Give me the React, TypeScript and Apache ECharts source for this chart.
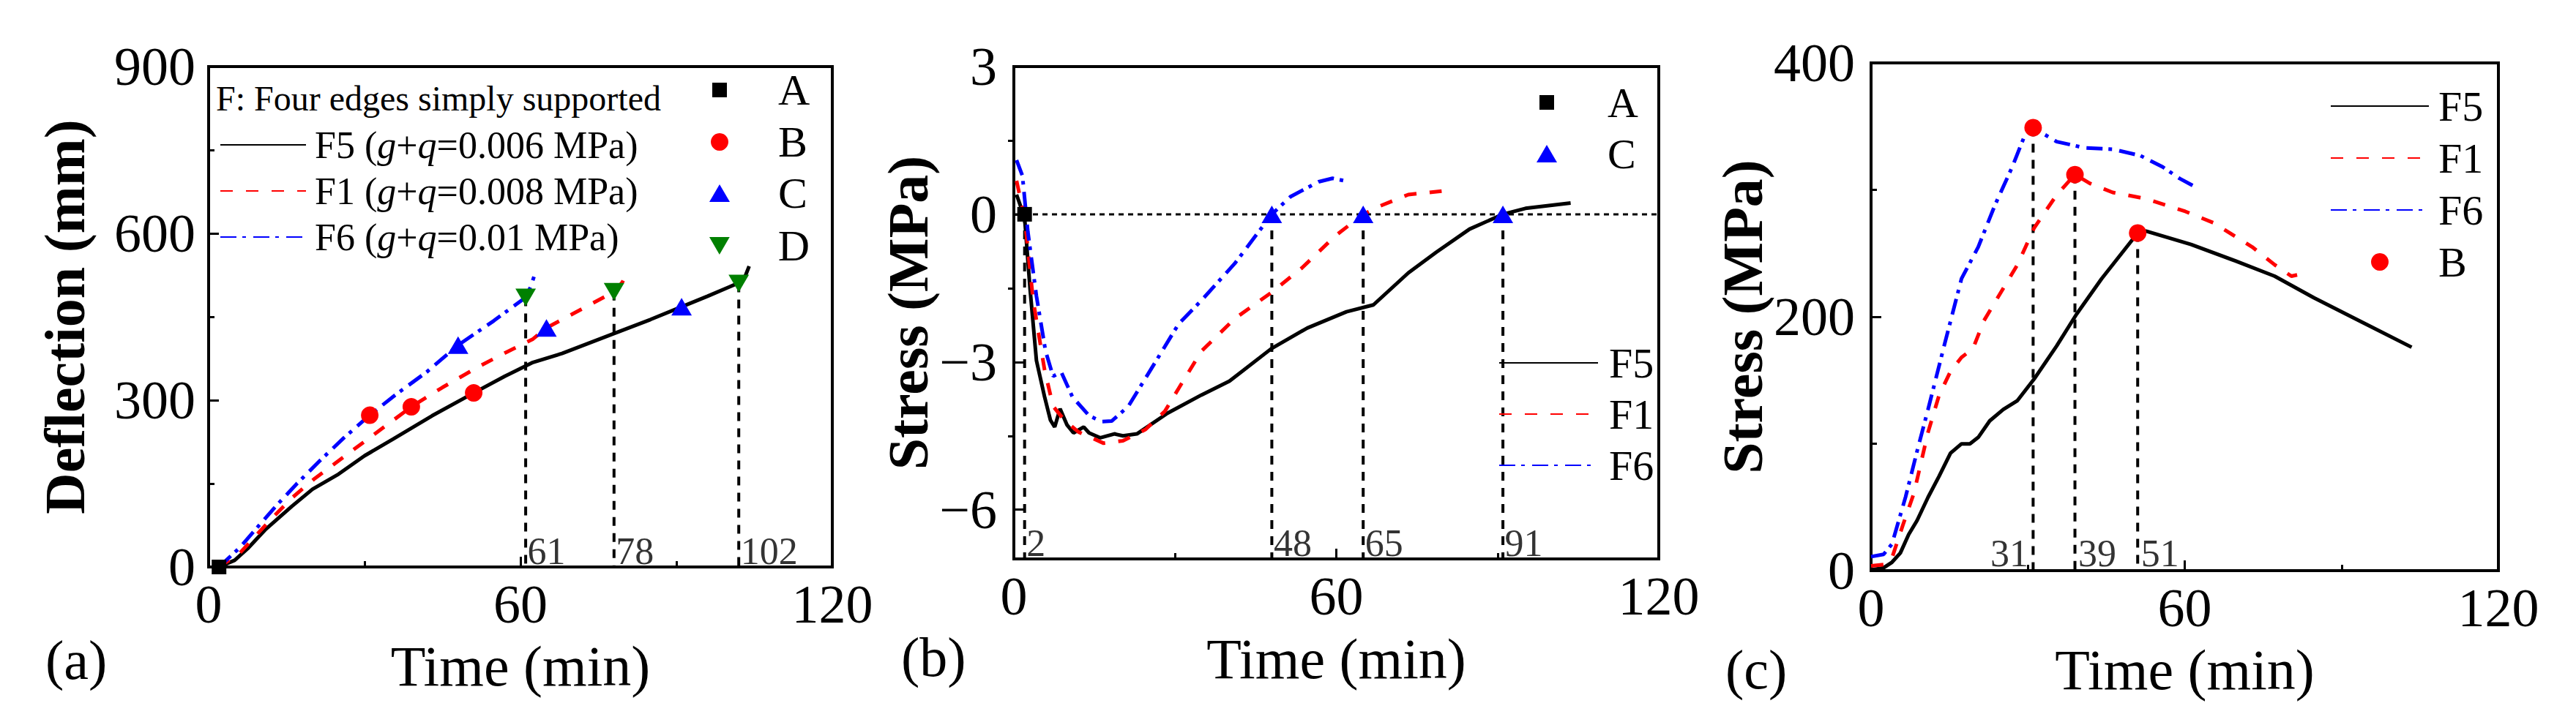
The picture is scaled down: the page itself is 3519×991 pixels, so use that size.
import { useEffect, useRef } from 'react';
import * as echarts from 'echarts';

const FONT = '"Liberation Serif", "Times New Roman", serif';

// ---------- (a) deflection vs time ----------
const defTimeF5 = [2, 5, 7.5, 11, 16, 20, 25, 30, 35.5, 43, 51, 57, 62.4, 68, 78, 85, 91, 96, 100, 102, 103.2, 104];
const defF5 = [0, 12, 33, 68, 109, 140, 167, 200, 230, 272, 313, 343, 368, 384, 420, 445, 468, 487, 503, 511, 522, 541];
const defTimeF1 = [2, 6, 11.8, 16, 20.4, 26, 31.2, 39, 45, 51.7, 57, 62.4, 65, 72, 78, 79.6, 80.7];
const defF1 = [0, 25, 84, 124, 159, 198, 234, 288, 323, 359, 385, 410, 430, 465, 495, 512, 535];
const defTimeF6 = [2, 6, 12.9, 17, 21.5, 26, 31, 36, 42, 48, 54.9, 61, 62, 62.6];
const defF6 = [0, 35, 109, 150, 192, 232, 273, 310, 351, 399, 443, 485, 505, 522];
const aLineNames = ['F5', 'F1', 'F6'];
const aLoads = ['0.006', '0.008', '0.01'];

const aPointATime = [2];
const aPointADef = [0];
const aPointBTime = [31, 39, 51];
const aPointBDef = [273, 288, 313];
const aPointCTime = [48, 65, 91];
const aPointCDef = [399, 430, 468];
const aPointDTime = [61, 78, 102];
const aPointDDef = [485, 495, 510];

// ---------- (b) concrete stress vs time ----------
const bTimeF5 = [0.5, 2, 3, 4.2, 5.7, 6.8, 7.6, 8.6, 9.9, 11.1, 13, 14, 16.1, 18.7, 20.3, 22.9, 28.6, 34.9, 40.1, 47.9, 54.6, 61.9, 66.9, 73.4, 78.6, 84.8, 91, 95.2, 103.6];
const bStressF5 = [0.4, -0.07, -1.5, -2.97, -3.7, -4.18, -4.32, -3.95, -4.28, -4.44, -4.32, -4.44, -4.54, -4.46, -4.5, -4.46, -4.04, -3.67, -3.39, -2.73, -2.31, -1.98, -1.84, -1.19, -0.77, -0.3, 0, 0.12, 0.23];
const bTimeF1 = [0.5, 2, 3.6, 5.7, 7.3, 9.4, 12, 16.7, 20.3, 24.5, 28.1, 30.7, 34.9, 41.1, 47.9, 53.6, 59.8, 65, 68.2, 73.4, 79.6];
const bStressF1 = [0.68, -0.07, -1.75, -3.15, -3.9, -4.18, -4.42, -4.65, -4.6, -4.37, -4, -3.53, -2.78, -2.12, -1.59, -1.09, -0.44, 0, 0.17, 0.4, 0.47];
const bTimeF6 = [0.5, 1.6, 2.6, 4.2, 5.9, 7.3, 8.8, 10.9, 14, 16.3, 18.2, 21.3, 25.5, 30.7, 34.9, 41.1, 48, 51.5, 56.7, 59.3, 62.4];
const bStressF6 = [1.1, 0.78, -0.35, -1.66, -2.78, -3.29, -3.2, -3.71, -4.09, -4.21, -4.2, -3.9, -3.15, -2.22, -1.75, -1, 0, 0.36, 0.66, 0.73, 0.66];

const bPointATime = [2];
const bPointAStress = [0];
const bPointCTime = [48, 65, 91];
const bPointCStress = [0, 0, 0];
const bDropTime = [2, 48, 65, 91];

// ---------- (c) steel stress vs time ----------
const cTimeF5 = [0.2, 2.4, 4, 5.6, 7.2, 8.8, 10.9, 13, 15.2, 17.3, 18.9, 20.5, 22.7, 25.3, 28, 31.2, 35.5, 39.3, 44.1, 51, 52.6, 61.2, 69.7, 77.2, 84.7, 94.3, 103.4];
const cStressF5 = [0.7, 2.2, 6.6, 13.9, 28.5, 39.5, 57.8, 74.3, 92.6, 99.9, 99.9, 105, 118, 127, 134, 151, 177, 202, 230, 266, 267.5, 257, 244, 232, 215, 195, 176];
const cTimeF1 = [0, 2.4, 4, 6.1, 8.2, 10.9, 13, 15.2, 17.3, 19.5, 21.6, 24.8, 28, 31.2, 35.5, 39, 41.9, 46.2, 52.6, 60.1, 65.5, 72.9, 77.2, 80.4, 81.5];
const cStressF1 = [3.7, 4.8, 10, 36, 61, 109, 138, 157, 168, 175, 197, 219, 241, 270, 296, 312, 305, 298, 293, 283, 274, 255, 241, 232, 233];
const cTimeF6 = [0, 2.4, 4, 6.6, 8.8, 10.9, 14.1, 17.3, 20.5, 23.7, 27, 29.6, 31, 35.5, 40.9, 46.2, 51.5, 55.8, 59, 61.7];
const cStressF6 = [11, 12.8, 21, 58, 94, 127, 179, 230, 255, 288, 318, 345, 349, 338, 333, 332, 327, 318, 309, 303];

const cPointBTime = [31, 39, 51];
const cPointBStress = [349, 312, 266];

const zip = (xs: number[], ys: number[]) => xs.map((x, i) => [x, ys[i]]);
const minus = (v: number) => (v < 0 ? `\u2212${Math.abs(v)}` : `${v}`);

const LINE_STYLES: Record<string, any> = {
  F5: { color: '#000000', width: 5, type: 'solid' },
  F1: { color: '#FF0000', width: 5, type: [17, 18] },
  F6: { color: '#0000FF', width: 5, type: [22, 8, 5, 10] },
};
const DOWN_TRIANGLE = 'path://M0,0L20,0L10,17.3Z';
const MARKERS: Record<string, any> = {
  A: { symbol: 'rect', size: 20, color: '#000000' },
  B: { symbol: 'circle', size: 24, color: '#FF0000' },
  C: { symbol: 'triangle', size: [28, 24], color: '#0000FF' },
  D: { symbol: DOWN_TRIANGLE, size: [28, 24], color: '#008000' },
};

const lineSeries = (name: string, axis: number, data: number[][]) => ({
  name,
  type: 'line',
  xAxisIndex: axis,
  yAxisIndex: axis,
  data,
  symbol: 'none',
  showSymbol: false,
  lineStyle: LINE_STYLES[name],
  itemStyle: { color: LINE_STYLES[name].color },
  z: 3,
  silent: true,
});

const markerSeries = (name: string, axis: number, data: number[][]) => ({
  name,
  type: 'scatter',
  xAxisIndex: axis,
  yAxisIndex: axis,
  data,
  symbol: MARKERS[name].symbol,
  symbolSize: MARKERS[name].size,
  itemStyle: { color: MARKERS[name].color, opacity: 1 },
  clip: false,
  z: 6,
  silent: true,
});

const dropLines = (xs: number[], tops: number[], bottom: number, axis: number) =>
  xs.map((x, i) => ({
    type: 'line',
    xAxisIndex: axis,
    yAxisIndex: axis,
    data: [[x, tops[i]], [x, bottom]],
    symbol: 'none',
    lineStyle: { color: '#000000', width: 4, type: [12, 10] },
    z: 1,
    silent: true,
  }));

const dropLabels = (xs: number[], base: number, axis: number, side: string, dist: number, dy: number) => ({
  type: 'scatter',
  xAxisIndex: axis,
  yAxisIndex: axis,
  data: xs.map((x) => [x, base]),
  symbolSize: 1,
  itemStyle: { color: 'rgba(0,0,0,0)' },
  clip: false,
  z: 4,
  silent: true,
  label: {
    show: true,
    position: side,
    distance: dist,
    offset: [0, dy],
    formatter: (p: any) => String(p.value[0]),
    fontFamily: FONT,
    fontSize: 52,
    color: '#000000',
  },
});

const xAxisFor = (gridIndex: number, nameGap: number) => ({
  type: 'value',
  gridIndex,
  min: 0,
  max: 120,
  interval: 60,
  name: 'Time (min)',
  nameLocation: 'middle',
  nameGap,
  nameTextStyle: { fontFamily: FONT, fontSize: 78, color: '#000000' },
  axisLine: { show: true, onZero: false, lineStyle: { color: '#000000', width: 4 } },
  axisTick: { show: true, inside: true, length: 14, lineStyle: { color: '#000000', width: 3 } },
  minorTick: { show: true, splitNumber: 2, length: 8, lineStyle: { color: '#000000', width: 3 } },
  axisLabel: { fontFamily: FONT, fontSize: 74, color: '#000000', margin: 14 },
  splitLine: { show: false },
  minorSplitLine: { show: false },
});

const yAxisBase = (gridIndex: number, name: string, nameGap: number, labelMargin: number) => ({
  type: 'value',
  gridIndex,
  name,
  nameLocation: 'middle',
  nameGap,
  nameTextStyle: { fontFamily: FONT, fontSize: 78, fontWeight: 'bold', color: '#000000' },
  axisLine: { show: true, onZero: false, lineStyle: { color: '#000000', width: 4 } },
  axisTick: { show: true, inside: true, length: 14, lineStyle: { color: '#000000', width: 3 } },
  axisLabel: { fontFamily: FONT, fontSize: 74, color: '#000000', margin: labelMargin },
  splitLine: { show: false },
});

const legendText = (size: number, lineHeight: number, padLeft: number) => ({
  fontFamily: FONT,
  fontSize: size,
  lineHeight,
  color: '#000000',
  padding: [0, 0, 0, padLeft],
});

// line legend entries without the centre dot ECharts adds to line icons
const lineItems = (names: string[]) => names.map((name) => ({ name, itemStyle: { opacity: 0 } }));

// one legend per marker so every icon keeps its own size
const markerLegend = (name: string, cx: number, cy: number, w: number, h: number, textLeft: number, size: number) => ({
  data: [name],
  orient: 'vertical',
  left: cx - w / 2,
  top: cy - size / 2,
  padding: 0,
  itemWidth: w,
  itemHeight: h,
  selectedMode: false,
  textStyle: legendText(size, size, textLeft - (cx + w / 2 + 5)),
});

export default function App() {
  const chartRef = useRef<HTMLDivElement>(null);

  useEffect(() => {
    document.body.style.margin = '0';
    if (!chartRef.current) return;
    const chart = echarts.init(chartRef.current, null, { renderer: 'svg' });

    const option: any = {
      animation: false,
      backgroundColor: '#ffffff',
      grid: [
        { left: 285, top: 91, width: 852, height: 684, show: true, borderColor: '#000000', borderWidth: 4 },
        { left: 1385, top: 91, width: 881, height: 673, show: true, borderColor: '#000000', borderWidth: 4 },
        { left: 2556, top: 86, width: 857, height: 694, show: true, borderColor: '#000000', borderWidth: 4 },
      ],
      xAxis: [xAxisFor(0, 96), xAxisFor(1, 97), xAxisFor(2, 96)],
      yAxis: [
        {
          ...yAxisBase(0, 'Deflection (mm)', 158, 18),
          min: 0,
          max: 900,
          interval: 300,
          minorTick: { show: true, splitNumber: 2, length: 8, lineStyle: { color: '#000000', width: 3 } },
        },
        {
          ...yAxisBase(1, 'Stress (MPa)', 96, 23),
          min: -7,
          max: 3,
          axisTick: {
            show: true,
            inside: true,
            length: 14,
            customValues: [-6, -3, 0, 3],
            lineStyle: { color: '#000000', width: 3 },
          },
          axisLabel: {
            fontFamily: FONT,
            fontSize: 74,
            color: '#000000',
            margin: 23,
            customValues: [-6, -3, 0, 3],
            formatter: (v: number) => minus(v),
          },
        },
        {
          ...yAxisBase(2, 'Stress (MPa)', 136, 22),
          min: 0,
          max: 400,
          interval: 200,
          minorTick: { show: true, splitNumber: 2, length: 8, lineStyle: { color: '#000000', width: 3 } },
        },
        {
          // minor ticks of panel (b)
          type: 'value',
          gridIndex: 1,
          min: -7,
          max: 3,
          axisLine: { show: false },
          axisLabel: { show: false },
          splitLine: { show: false },
          axisTick: {
            show: true,
            inside: true,
            length: 8,
            customValues: [-4.5, -1.5, 1.5],
            lineStyle: { color: '#000000', width: 3 },
          },
        },
      ],
      legend: [
        {
          data: lineItems(aLineNames),
          orient: 'vertical',
          left: 300,
          top: 172,
          padding: 0,
          itemWidth: 117,
          itemHeight: 20,
          itemGap: 11,
          selectedMode: false,
          formatter: (n: string) => `${n} ({i|g}+{i|q}=${aLoads[aLineNames.indexOf(n)]} MPa)`,
          textStyle: {
            ...legendText(52, 52, 7),
            rich: { i: { fontFamily: FONT, fontSize: 52, lineHeight: 52, fontStyle: 'italic', color: '#000000' } },
          },
        },
        markerLegend('A', 983, 123, 20, 20, 1063, 60),
        markerLegend('B', 983, 194, 24, 24, 1063, 60),
        markerLegend('C', 983, 264, 28, 24, 1063, 60),
        markerLegend('D', 983, 336, 28, 24, 1063, 60),
        markerLegend('A', 2113, 140, 20, 20, 2196, 58),
        markerLegend('C', 2113, 210, 28, 24, 2196, 58),
        {
          data: lineItems(['F5', 'F1', 'F6']),
          orient: 'vertical',
          left: 2047,
          top: 467,
          padding: 0,
          itemWidth: 135,
          itemHeight: 20,
          itemGap: 12,
          selectedMode: false,
          textStyle: legendText(58, 58, 10),
        },
        {
          data: [...lineItems(['F5', 'F1', 'F6']), { name: 'B' }],
          orient: 'vertical',
          left: 3183,
          top: 116,
          padding: 0,
          itemWidth: 134,
          itemHeight: 24,
          itemGap: 13,
          selectedMode: false,
          textStyle: legendText(58, 58, 8),
        },
      ],
      graphic: [
        {
          type: 'text',
          x: 295,
          y: 134,
          silent: true,
          style: { text: 'F: Four edges simply supported', fontFamily: FONT, fontSize: 48, fill: '#000000', verticalAlign: 'middle' },
        },
        { type: 'text', x: 62, y: 902, silent: true, style: { text: '(a)', fontFamily: FONT, fontSize: 76, fill: '#000000', verticalAlign: 'middle' } },
        { type: 'text', x: 1231, y: 898, silent: true, style: { text: '(b)', fontFamily: FONT, fontSize: 76, fill: '#000000', verticalAlign: 'middle' } },
        { type: 'text', x: 2357, y: 915, silent: true, style: { text: '(c)', fontFamily: FONT, fontSize: 76, fill: '#000000', verticalAlign: 'middle' } },
      ],
      series: [
        // (a)
        ...dropLines(aPointDTime, aPointDDef, 0, 0),
        dropLabels(aPointDTime, 0, 0, 'right', 2, -22),
        lineSeries('F5', 0, zip(defTimeF5, defF5)),
        lineSeries('F1', 0, zip(defTimeF1, defF1)),
        lineSeries('F6', 0, zip(defTimeF6, defF6)),
        markerSeries('A', 0, zip(aPointATime, aPointADef)),
        markerSeries('B', 0, zip(aPointBTime, aPointBDef)),
        markerSeries('C', 0, zip(aPointCTime, aPointCDef)),
        markerSeries('D', 0, zip(aPointDTime, aPointDDef)),
        // (b)
        {
          type: 'line',
          xAxisIndex: 1,
          yAxisIndex: 1,
          data: [[0, 0], [120, 0]],
          symbol: 'none',
          lineStyle: { color: '#000000', width: 3, type: [7, 6] },
          z: 1,
          silent: true,
        },
        ...dropLines(bDropTime, bDropTime.map(() => 0), -7, 1),
        dropLabels(bDropTime, -7, 1, 'right', 2, -22),
        lineSeries('F5', 1, zip(bTimeF5, bStressF5)),
        lineSeries('F1', 1, zip(bTimeF1, bStressF1)),
        lineSeries('F6', 1, zip(bTimeF6, bStressF6)),
        markerSeries('A', 1, zip(bPointATime, bPointAStress)),
        markerSeries('C', 1, zip(bPointCTime, bPointCStress)),
        // (c)
        ...dropLines(cPointBTime, cPointBStress, 0, 2),
        dropLabels(cPointBTime.slice(0, 1), 0, 2, 'left', 6, -24),
        dropLabels(cPointBTime.slice(1), 0, 2, 'right', 4, -24),
        lineSeries('F5', 2, zip(cTimeF5, cStressF5)),
        lineSeries('F1', 2, zip(cTimeF1, cStressF1)),
        lineSeries('F6', 2, zip(cTimeF6, cStressF6)),
        markerSeries('B', 2, zip(cPointBTime, cPointBStress)),
      ],
    };

    chart.setOption(option);
    return () => chart.dispose();
  }, []);

  return <div ref={chartRef} style={{ width: 3519, height: 991 }} />;
}
